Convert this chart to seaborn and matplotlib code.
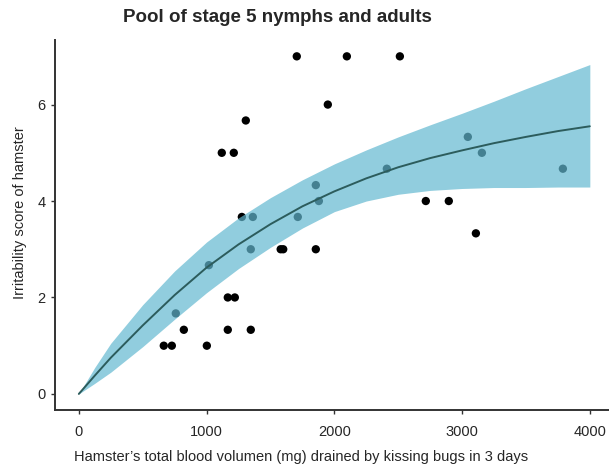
import matplotlib
matplotlib.use("Agg")
import matplotlib.pyplot as plt
import seaborn as sns
import pandas as pd

# observed hamsters: blood volume drained (mg) vs irritability score
blood_mg = [1706, 2098, 2513, 1949, 1307, 1119, 1213, 1276, 1362, 1855,
            1879, 1714, 1346, 1580, 1600, 1855, 1018, 1166, 1221, 759,
            822, 1166, 1346, 665, 728, 1002, 2411, 3045, 3155, 3789,
            2716, 2896, 3108]
irritability = [7, 7, 7, 6, 5.67, 5, 5, 3.67, 3.67, 4.33,
                4, 3.67, 3, 3, 3, 3, 2.67, 2, 2, 1.67,
                1.33, 1.33, 1.33, 1, 1, 1, 4.67, 5.33, 5, 4.67,
                4, 4, 3.33]

# fitted curve and its band
fit_x = [0, 125, 250, 500, 750, 1000, 1250, 1500, 1750, 2000, 2250, 2500,
         2750, 3000, 3250, 3500, 3750, 4000]
fit_y = [0, 0.38, 0.75, 1.42, 2.05, 2.62, 3.1, 3.52, 3.89, 4.2, 4.47, 4.7,
         4.89, 5.05, 5.2, 5.33, 5.45, 5.55]
fit_hi = [0, 0.55, 1.05, 1.85, 2.55, 3.15, 3.65, 4.07, 4.44, 4.77, 5.06, 5.33,
          5.58, 5.82, 6.07, 6.33, 6.58, 6.83]
fit_lo = [0, 0.22, 0.45, 0.98, 1.55, 2.1, 2.6, 3.04, 3.44, 3.78, 4.0, 4.14,
          4.22, 4.26, 4.28, 4.28, 4.29, 4.29]

pts = pd.DataFrame({"blood": blood_mg, "score": irritability})
fit = pd.DataFrame({"x": fit_x, "y": fit_y, "lo": fit_lo, "hi": fit_hi})

sns.set_style("ticks")
plt.rcParams["font.family"] = ["Liberation Sans", "DejaVu Sans"]

fig = plt.figure(figsize=(6.09, 4.70), dpi=100)
ax = fig.add_axes([0.09, 0.128, 0.91, 0.787])

sns.scatterplot(data=pts, x="blood", y="score", color="black", s=36,
                edgecolor="none", ax=ax, zorder=2)
ax.fill_between(fit["x"], fit["lo"], fit["hi"], color="#62b8d0", alpha=0.7,
                linewidth=0, zorder=3)
sns.lineplot(data=fit, x="x", y="y", color="#2c5c5c", linewidth=1.4, ax=ax,
             zorder=4)

ax.set_xlim(-188, 4150)
ax.set_ylim(-0.33, 7.34)
ax.set_xticks([0, 1000, 2000, 3000, 4000])
ax.set_yticks([0, 2, 4, 6])
ax.set_xlabel("")
ax.set_ylabel("")
ax.tick_params(axis="both", labelsize=10.5, length=3, width=1, color="#333333")
ax.tick_params(axis="x", pad=8)
sns.despine(ax=ax)
for side in ["left", "bottom"]:
    ax.spines[side].set_color("#333333")
    ax.spines[side].set_linewidth(1.4)

fig.text(0.455, 0.962, "Pool of stage 5 nymphs and adults", ha="center",
         va="center", fontsize=13.5, fontweight="bold")
fig.text(0.494, 0.028, "Hamster\u2019s total blood volumen (mg) drained by kissing bugs in 3 days",
         ha="center", va="center", fontsize=10.5)
fig.text(0.033, 0.547, "Irritability score of hamster", ha="center",
         va="center", rotation=90, fontsize=10.5)

fig.savefig("out.png", dpi=100)
